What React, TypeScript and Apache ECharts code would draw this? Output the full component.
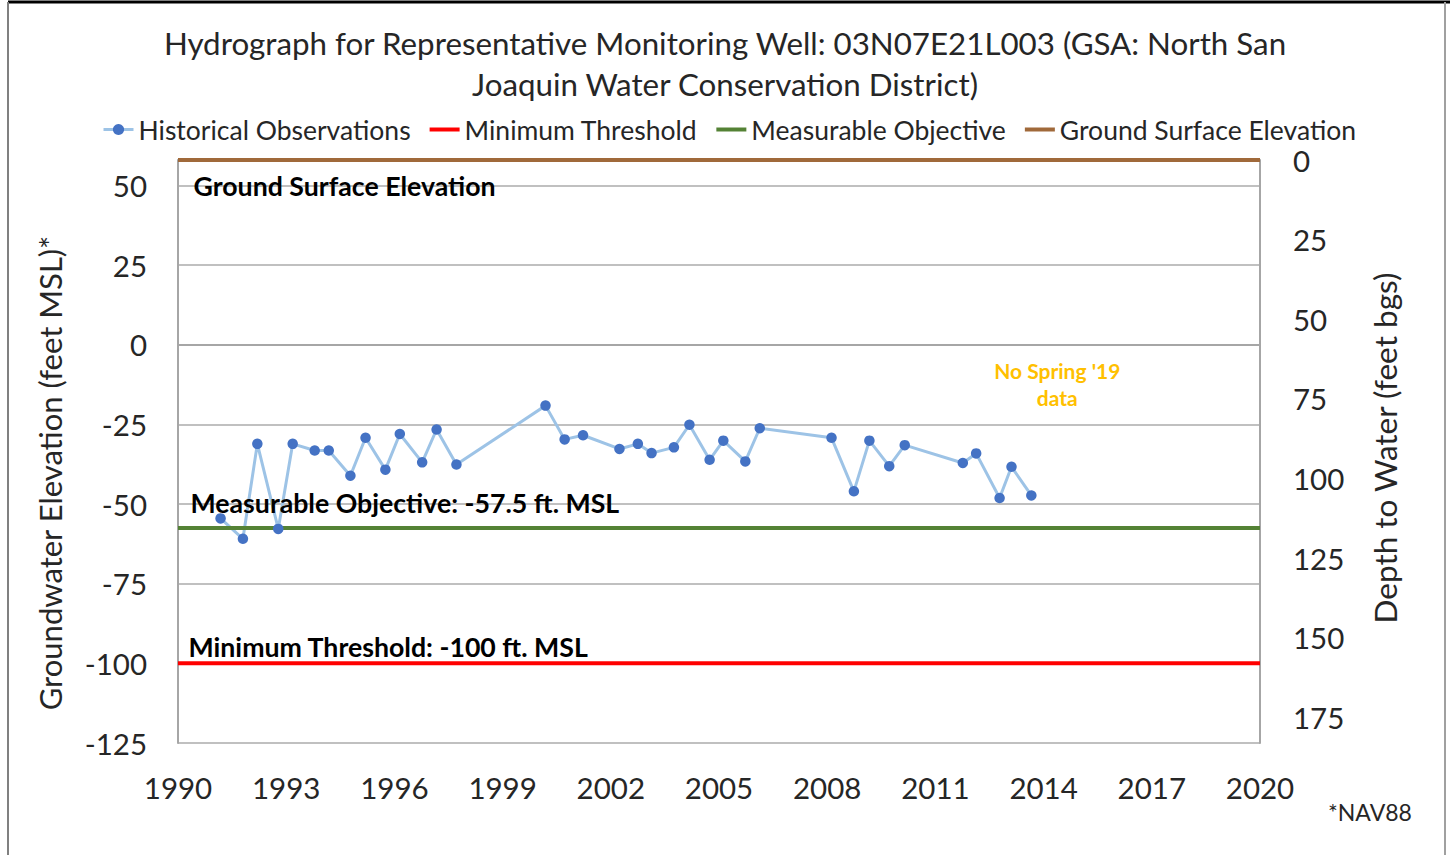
import React, { useEffect, useRef } from "react";
import * as echarts from "echarts";

const TITLE_LINES = [
  "Hydrograph for Representative Monitoring Well: 03N07E21L003 (GSA: North San",
  "Joaquin Water Conservation District)",
];
const SERIES_NAMES = [
  "Historical Observations",
  "Minimum Threshold",
  "Measurable Objective",
  "Ground Surface Elevation",
];
const LEFT_AXIS_NAME = "Groundwater Elevation (feet MSL)*";
const RIGHT_AXIS_NAME = "Depth to Water (feet bgs)";
const FOOTNOTE = "*NAV88";

// Observation dates (decimal years) and groundwater elevations (ft MSL)
const OBS_DATES = [
  1991.18, 1991.8, 1992.2, 1992.78, 1993.18, 1993.79, 1994.18, 1994.78, 1995.2, 1995.75,
  1996.15, 1996.77, 1997.17, 1997.72, 2000.19, 2000.72, 2001.23, 2002.24, 2002.75, 2003.13,
  2003.75, 2004.18, 2004.74, 2005.12, 2005.73, 2006.13, 2008.12, 2008.74, 2009.17, 2009.72,
  2010.15, 2011.76, 2012.13, 2012.78, 2013.11, 2013.66,
];
const OBS_ELEV = [
  -54.5, -60.9, -31.1, -57.8, -31.1, -33.2, -33.2, -41.1, -29.2, -39.2,
  -28.0, -36.9, -26.6, -37.6, -19.1, -29.7, -28.4, -32.7, -31.1, -34.0,
  -32.2, -25.1, -36.1, -30.1, -36.6, -26.2, -29.2, -46.0, -30.1, -38.1,
  -31.5, -37.1, -34.1, -48.1, -38.3, -47.3,
];

const YEAR_START = 1990;
const YEAR_END = 2020;
const YEAR_STEP = 3;
const MIN_THRESHOLD = -100;
const MEASURABLE_OBJECTIVE = -57.5;
const GROUND_SURFACE = 58;
const ELEV_MIN = -125;
const ELEV_STEP = 25;

const MT_LABEL = "Minimum Threshold: -100 ft. MSL";
const MO_LABEL = "Measurable Objective: -57.5 ft. MSL";
const GSE_LABEL = "Ground Surface Elevation";
const NOTE_LABEL = "No Spring '19\ndata";
const NOTE_AT = [2014.38, -12.2];

const FONT = "Lato, 'Open Sans', sans-serif";
const TXT = "#262626";
const BLUE_DOT = "#4472C4";
const BLUE_LINE = "#9DC3E6";
const RED = "#FF0000";
const GREEN = "#548235";
const BROWN = "#A0693A";

export default function App() {
  const ref = useRef<HTMLDivElement>(null);

  useEffect(() => {
    if (!ref.current) return;
    const chart = echarts.init(ref.current, undefined, { renderer: "svg" });

    const toX = (y: number) => y - YEAR_START;
    const span = YEAR_END - YEAR_START;
    const flat = (v: number) => [
      [0, v],
      [span, v],
    ];

    const annot = (coord: number[], text: string, offset: number[]) => ({
      coord,
      symbol: "circle",
      symbolSize: 1,
      itemStyle: { color: "rgba(0,0,0,0)" },
      label: {
        show: true,
        position: "right",
        distance: 0,
        offset,
        formatter: text,
        fontFamily: FONT,
        fontSize: 26.7,
        fontWeight: "bold",
        color: "#000",
      },
    });

    const plainLegend = (name: string, color: string) => ({
      name,
      itemStyle: { color: "rgba(0,0,0,0)", opacity: 0 },
      lineStyle: { color, width: 4 },
    });

    const option: any = {
      animation: false,
      backgroundColor: "#fff",
      title: {
        text: TITLE_LINES.join("\n"),
        left: "center",
        top: 17,
        textStyle: {
          fontFamily: FONT,
          fontSize: 31.3,
          fontWeight: "normal",
          color: TXT,
          lineHeight: 41,
        },
      },
      legend: {
        left: 97,
        top: 111,
        itemWidth: 30,
        itemHeight: 14,
        itemGap: 17,
        data: [
          { name: SERIES_NAMES[0], lineStyle: { color: BLUE_LINE, width: 3 } },
          plainLegend(SERIES_NAMES[1], RED),
          plainLegend(SERIES_NAMES[2], GREEN),
          plainLegend(SERIES_NAMES[3], BROWN),
        ],
        textStyle: { fontFamily: FONT, fontSize: 26.5, color: TXT },
      },
      grid: { left: 178, right: 190, top: 160, bottom: 112, containLabel: false, outerBoundsMode: "none" },
      xAxis: {
        type: "value",
        min: 0,
        max: span,
        interval: YEAR_STEP,
        axisLine: { show: true, lineStyle: { color: "#a6a6a6", width: 2 } },
        axisTick: { show: false },
        splitLine: { show: false },
        axisLabel: {
          margin: 29,
          fontFamily: FONT,
          fontSize: 29.5,
          color: TXT,
          formatter: (v: number) => String(v + YEAR_START),
        },
      },
      yAxis: [
        {
          type: "value",
          min: ELEV_MIN,
          max: GROUND_SURFACE,
          interval: ELEV_STEP,
          axisLine: { show: true, lineStyle: { color: "#a6a6a6", width: 2 } },
          axisTick: { show: false },
          splitLine: { show: true, lineStyle: { color: "#c0c0c0", width: 2 } },
          axisLabel: {
            margin: 31,
            fontFamily: FONT,
            fontSize: 29.5,
            color: TXT,
            formatter: (v: number) => (Math.abs(v % ELEV_STEP) < 1e-6 ? String(v) : ""),
          },
        },
        {
          type: "value",
          position: "right",
          inverse: true,
          min: 0,
          max: GROUND_SURFACE - ELEV_MIN,
          interval: ELEV_STEP,
          axisLine: { show: true, lineStyle: { color: "#a6a6a6", width: 2 } },
          axisTick: { show: false },
          splitLine: { show: false },
          axisLabel: {
            margin: 33,
            fontFamily: FONT,
            fontSize: 29.5,
            color: TXT,
            formatter: (v: number) => (Math.abs(v % ELEV_STEP) < 1e-6 ? String(v) : ""),
          },
        },
      ],
      series: [
        {
          name: SERIES_NAMES[0],
          type: "line",
          data: OBS_DATES.map((d, i) => [toX(d), OBS_ELEV[i]]),
          symbol: "circle",
          symbolSize: 10.5,
          itemStyle: { color: BLUE_DOT },
          lineStyle: { color: BLUE_LINE, width: 3 },
          markPoint: {
            silent: true,
            data: [
              {
                coord: [toX(NOTE_AT[0]), NOTE_AT[1]],
                symbol: "circle",
                symbolSize: 1,
                itemStyle: { color: "rgba(0,0,0,0)" },
                label: {
                  show: true,
                  position: "inside",
                  formatter: NOTE_LABEL,
                  fontFamily: FONT,
                  fontSize: 21,
                  fontWeight: "bold",
                  lineHeight: 27,
                  align: "center",
                  color: "#FFC000",
                },
              },
            ],
          },
        },
        {
          name: SERIES_NAMES[1],
          type: "line",
          data: flat(MIN_THRESHOLD),
          symbol: "none",
          itemStyle: { color: RED },
          lineStyle: { color: RED, width: 4 },
          markPoint: { silent: true, data: [annot([0, MIN_THRESHOLD], MT_LABEL, [10, -16])] },
        },
        {
          name: SERIES_NAMES[2],
          type: "line",
          data: flat(MEASURABLE_OBJECTIVE),
          symbol: "none",
          itemStyle: { color: GREEN },
          lineStyle: { color: GREEN, width: 4 },
          markPoint: { silent: true, data: [annot([0, MEASURABLE_OBJECTIVE], MO_LABEL, [12, -25])] },
        },
        {
          name: SERIES_NAMES[3],
          type: "line",
          data: flat(GROUND_SURFACE),
          symbol: "none",
          clip: false,
          itemStyle: { color: BROWN },
          lineStyle: { color: BROWN, width: 4 },
          markPoint: { silent: true, data: [annot([0, GROUND_SURFACE], GSE_LABEL, [15, 26])] },
        },
      ],
      graphic: [
        { type: "line", silent: true, shape: { x1: 8, y1: 2, x2: 1450, y2: 2 }, style: { stroke: "#000", lineWidth: 3 } },
        { type: "line", silent: true, shape: { x1: 8, y1: 2, x2: 8, y2: 855 }, style: { stroke: "#808080", lineWidth: 2 } },
        { type: "line", silent: true, shape: { x1: 1445, y1: 2, x2: 1445, y2: 855 }, style: { stroke: "#a0a0a0", lineWidth: 2 } },
        {
          type: "text",
          silent: true,
          x: 50,
          y: 473,
          rotation: Math.PI / 2,
          style: { text: LEFT_AXIS_NAME, fontFamily: FONT, fontSize: 31, fill: TXT, align: "center", verticalAlign: "middle" },
        },
        {
          type: "text",
          silent: true,
          x: 1385,
          y: 448,
          rotation: Math.PI / 2,
          style: { text: RIGHT_AXIS_NAME, fontFamily: FONT, fontSize: 31.5, fill: TXT, align: "center", verticalAlign: "middle" },
        },
        {
          type: "text",
          silent: true,
          x: 1328,
          y: 812,
          style: { text: FOOTNOTE, fontFamily: FONT, fontSize: 23, fill: TXT, align: "left", verticalAlign: "middle" },
        },
      ],
    };

    chart.setOption(option);
    return () => chart.dispose();
  }, []);

  return (
    <div
      ref={ref}
      style={{ position: "absolute", left: 0, top: 0, width: 1450, height: 855, background: "#fff" }}
    />
  );
}
